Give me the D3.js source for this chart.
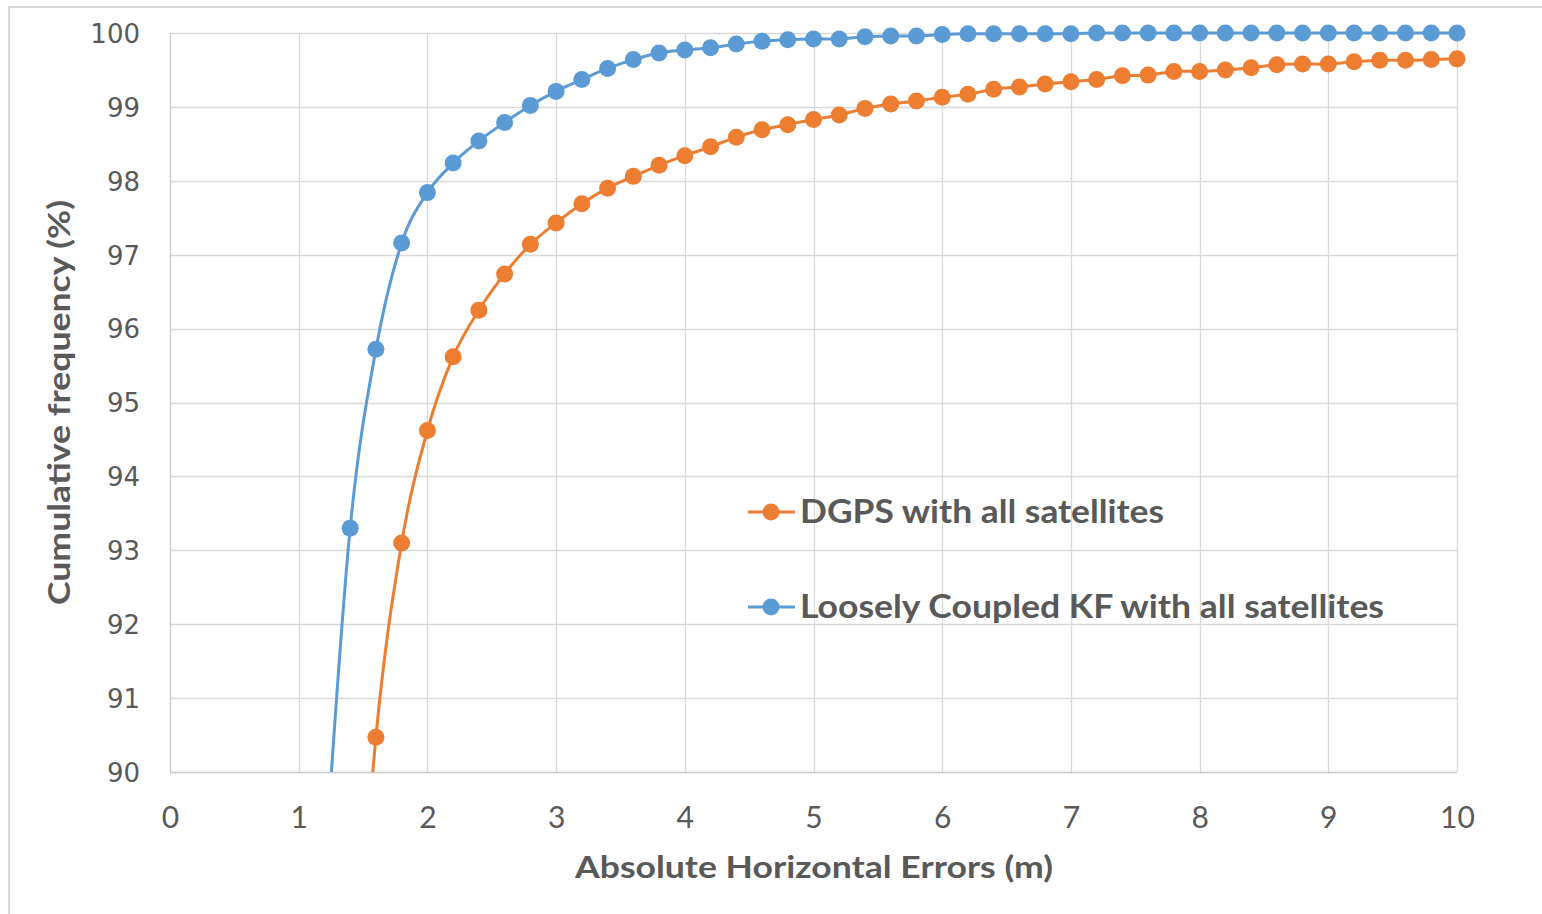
<!DOCTYPE html>
<html>
<head>
<meta charset="utf-8">
<script src="https://cdn.jsdelivr.net/npm/d3@7"></script>
<style>
  html, body { margin: 0; padding: 0; background: #fff; }
  svg { display: block; }
</style>
</head>
<body>
<svg id="chart" width="1542" height="914"></svg>
<script>
// ---- data ----
const xValues = [1.2, 1.4, 1.6, 1.8, 2.0, 2.2, 2.4, 2.6, 2.8, 3.0, 3.2, 3.4, 3.6, 3.8, 4.0,
  4.2, 4.4, 4.6, 4.8, 5.0, 5.2, 5.4, 5.6, 5.8, 6.0, 6.2, 6.4, 6.6, 6.8, 7.0,
  7.2, 7.4, 7.6, 7.8, 8.0, 8.2, 8.4, 8.6, 8.8, 9.0, 9.2, 9.4, 9.6, 9.8, 10.0];

const dgpsValues = [80.0, 85.8, 90.47, 93.10, 94.62, 95.62, 96.25, 96.74, 97.14, 97.43, 97.69, 97.90, 98.06, 98.21, 98.34,
  98.46, 98.59, 98.69, 98.76, 98.83, 98.89, 98.98, 99.04, 99.08, 99.13, 99.17, 99.24, 99.27, 99.31, 99.34,
  99.37, 99.42, 99.43, 99.48, 99.48, 99.50, 99.53, 99.57, 99.58, 99.58, 99.61, 99.63, 99.63, 99.64, 99.65];

const lckfValues = [88.6, 93.30, 95.72, 97.16, 97.84, 98.24, 98.54, 98.79, 99.02, 99.21, 99.37, 99.52, 99.64, 99.73, 99.77,
  99.80, 99.85, 99.89, 99.91, 99.92, 99.92, 99.95, 99.96, 99.96, 99.98, 99.99, 99.99, 99.99, 99.99, 99.99,
  100.0, 100.0, 100.0, 100.0, 100.0, 100.0, 100.0, 100.0, 100.0, 100.0, 100.0, 100.0, 100.0, 100.0, 100.0];

const seriesNames = ["DGPS with all satellites", "Loosely Coupled KF with all satellites"];
const seriesColors = ["#ED7D31", "#5B9BD5"];

const xTicks = [0, 1, 2, 3, 4, 5, 6, 7, 8, 9, 10];
const yTicks = [90, 91, 92, 93, 94, 95, 96, 97, 98, 99, 100];

const xTitle = "Absolute Horizontal Errors (m)";
const yTitle = "Cumulative frequency (%)";

// ---- layout ----
const svg = d3.select("#chart");
const pLeft = 170, pRight = 1457, pTop = 33, pBottom = 772;

const x = d3.scaleLinear().domain([0, 10]).range([pLeft, pRight]);
const y = d3.scaleLinear().domain([90, 100]).range([pBottom, pTop]);

// outer border
svg.append("rect")
  .attr("x", 9).attr("y", 7).attr("width", 1560).attr("height", 940)
  .attr("fill", "none").attr("stroke", "#d9d9d9").attr("stroke-width", 2);

// gridlines
const grid = svg.append("g");
grid.selectAll("line.h").data(yTicks).join("line")
  .attr("x1", pLeft).attr("x2", pRight)
  .attr("y1", d => Math.round(y(d)) + 0.5).attr("y2", d => Math.round(y(d)) + 0.5)
  .attr("stroke", d => d === 90 ? "#c8c8c8" : "#d9d9d9").attr("stroke-width", 1.3);
grid.selectAll("line.v").data(xTicks).join("line")
  .attr("y1", pTop).attr("y2", pBottom)
  .attr("x1", d => Math.round(x(d)) + 0.5).attr("x2", d => Math.round(x(d)) + 0.5)
  .attr("stroke", d => d === 0 ? "#c8c8c8" : "#d9d9d9").attr("stroke-width", 1.3);

// axes labels via d3 axes
const yAxis = d3.axisLeft(y).tickValues(yTicks).tickSize(0).tickPadding(0);
const gy = svg.append("g").attr("transform", `translate(${pLeft - 30},0)`).call(yAxis);
gy.select(".domain").remove();
gy.selectAll("text")
  .attr("font-family", "DejaVu Sans, Verdana, sans-serif")
  .attr("font-size", 26).attr("fill", "#595959").attr("dy", "0.36em");

const xAxis = d3.axisBottom(x).tickValues(xTicks).tickSize(0).tickPadding(0);
const gx = svg.append("g").attr("transform", `translate(0,${pBottom + 45})`).call(xAxis);
gx.select(".domain").remove();
gx.selectAll("text")
  .attr("font-family", "Lato, Calibri, sans-serif")
  .attr("font-size", 30).attr("fill", "#595959").attr("dy", "0.36em");

// axis titles
svg.append("text")
  .attr("x", 814).attr("y", 870)
  .attr("text-anchor", "middle").attr("dominant-baseline", "middle")
  .attr("font-family", "Lato, Calibri, sans-serif").attr("font-weight", "bold")
  .attr("font-size", 31).attr("fill", "#595959")
  .attr("textLength", 478).attr("lengthAdjust", "spacingAndGlyphs")
  .text(xTitle);

svg.append("text")
  .attr("transform", `translate(62,${(pTop + pBottom) / 2}) rotate(-90)`)
  .attr("text-anchor", "middle").attr("dominant-baseline", "middle")
  .attr("font-family", "Lato, Calibri, sans-serif").attr("font-weight", "bold")
  .attr("font-size", 31).attr("fill", "#595959")
  .attr("textLength", 405).attr("lengthAdjust", "spacingAndGlyphs")
  .text(yTitle);

// clip for lines
svg.append("defs").append("clipPath").attr("id", "plotclip")
  .append("rect").attr("x", pLeft).attr("y", 0).attr("width", pRight - pLeft + 30).attr("height", pBottom);

const allSeries = [dgpsValues, lckfValues];
const line = d3.line()
  .x((d, i) => x(xValues[i]))
  .y(d => y(d))
  .curve(d3.curveCatmullRom.alpha(0));

allSeries.forEach((vals, si) => {
  const g = svg.append("g");
  g.append("path")
    .attr("d", line(vals))
    .attr("fill", "none").attr("stroke", seriesColors[si]).attr("stroke-width", 3)
    .attr("clip-path", "url(#plotclip)");
  const pts = vals.map((v, i) => ({ x: xValues[i], v })).filter(p => p.v >= 90);
  g.selectAll("circle").data(pts).join("circle")
    .attr("cx", d => x(d.x)).attr("cy", d => y(d.v)).attr("r", 8.5)
    .attr("fill", seriesColors[si]);
});

// legend
const legendY = [512, 607];
seriesNames.forEach((name, i) => {
  const g = svg.append("g");
  g.append("line").attr("x1", 748).attr("x2", 795).attr("y1", legendY[i]).attr("y2", legendY[i])
    .attr("stroke", seriesColors[i]).attr("stroke-width", 3);
  g.append("circle").attr("cx", 771).attr("cy", legendY[i]).attr("r", 8.5).attr("fill", seriesColors[i]);
  g.append("text").attr("x", 800).attr("y", legendY[i] + 3)
    .attr("dominant-baseline", "middle")
    .attr("font-family", "Lato, Calibri, sans-serif").attr("font-weight", "bold")
    .attr("font-size", 32).attr("fill", "#595959")
    .attr("textLength", i === 0 ? 364 : 584).attr("lengthAdjust", "spacingAndGlyphs")
    .text(name);
});
</script>
</body>
</html>
